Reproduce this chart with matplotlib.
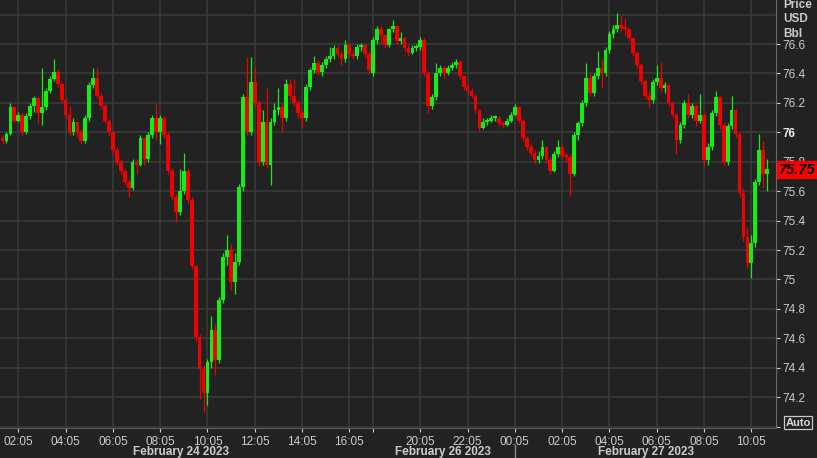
import matplotlib
matplotlib.use("Agg")
import matplotlib.pyplot as plt
from matplotlib.patches import Rectangle
from matplotlib.lines import Line2D

# WTI crude, 10-minute bars, Fri 24 Feb 01:25 -> Mon 27 Feb 10:35 (weekend removed)
first_open = 75.96
sunday_bar = 94
sunday_open = 76.40

closes = [
    75.94, 75.99, 76.17, 76.08, 76.12, 76.00, 76.11, 76.18, 76.23, 76.13,
    76.17, 76.28, 76.36, 76.41, 76.33, 76.22, 76.12, 76.00, 76.07, 76.00,
    75.94, 76.10, 76.32, 76.37, 76.25, 76.18, 76.08, 76.00, 75.88, 75.80,
    75.74, 75.66, 75.62, 75.80, 75.78, 75.96, 75.82, 75.98, 76.10, 76.00,
    76.10, 75.98, 75.74, 75.56, 75.46, 75.60, 75.74, 75.54, 75.09, 74.61,
    74.39, 74.23, 74.44, 74.66, 74.45, 74.86, 75.15, 75.20, 74.98, 75.12,
    75.63, 76.24, 76.00, 76.34, 76.20, 75.80, 76.07, 75.78, 76.07, 76.15,
    76.17, 76.10, 76.33, 76.25, 76.20, 76.13, 76.10, 76.31, 76.42, 76.47,
    76.41, 76.46, 76.50, 76.52, 76.57, 76.53, 76.50, 76.59, 76.53, 76.52,
    76.58, 76.59, 76.53, 76.42,
    76.63, 76.70, 76.66, 76.59, 76.70, 76.72, 76.62, 76.64, 76.57, 76.54,
    76.57, 76.58, 76.63, 76.40, 76.18, 76.24, 76.40, 76.44, 76.40, 76.44,
    76.46, 76.48, 76.38, 76.31, 76.28, 76.25, 76.15, 76.03, 76.07, 76.08,
    76.10, 76.10, 76.06, 76.05, 76.08, 76.12, 76.17, 76.08, 75.96, 75.90,
    75.86, 75.81, 75.84, 75.90, 75.81, 75.74, 75.85, 75.90, 75.84, 75.83,
    75.72, 75.98, 76.06, 76.20, 76.37, 76.27, 76.38, 76.44, 76.40, 76.56,
    76.67, 76.70, 76.73, 76.71, 76.70, 76.64, 76.54, 76.46, 76.35, 76.25,
    76.22, 76.34, 76.37, 76.30, 76.32, 76.20, 76.12, 75.95, 76.05, 76.20,
    76.12, 76.18, 76.08, 76.12, 75.81, 75.90, 76.13, 76.24, 76.05, 75.80,
    76.04, 76.15, 75.99, 75.59, 75.29, 75.11, 75.25, 75.66, 75.88, 75.72,
    75.75,
]
highs = [
    75.98, 76.00, 76.20, 76.18, 76.14, 76.13, 76.13, 76.20, 76.25, 76.24,
    76.44, 76.30, 76.38, 76.50, 76.43, 76.34, 76.23, 76.18, 76.10, 76.08,
    76.02, 76.12, 76.34, 76.44, 76.44, 76.27, 76.19, 76.09, 76.01, 75.90,
    75.82, 75.75, 75.68, 75.82, 75.82, 75.98, 75.97, 76.00, 76.12, 76.19,
    76.12, 76.11, 76.00, 75.76, 75.58, 75.75, 75.86, 75.76, 75.56, 75.10,
    74.63, 74.42, 74.46, 74.75, 74.70, 74.88, 75.18, 75.30, 75.24, 75.18,
    75.65, 76.26, 76.51, 76.51, 76.44, 76.22, 76.15, 76.30, 76.10, 76.20,
    76.30, 76.20, 76.36, 76.36, 76.36, 76.22, 76.15, 76.33, 76.44, 76.52,
    76.49, 76.48, 76.52, 76.58, 76.59, 76.59, 76.55, 76.63, 76.60, 76.56,
    76.60, 76.61, 76.60, 76.55,
    76.65, 76.72, 76.72, 76.67, 76.71, 76.76, 76.73, 76.68, 76.65, 76.59,
    76.59, 76.60, 76.65, 76.64, 76.41, 76.26, 76.47, 76.46, 76.45, 76.46,
    76.48, 76.50, 76.49, 76.39, 76.33, 76.30, 76.26, 76.16, 76.10, 76.10,
    76.12, 76.12, 76.11, 76.08, 76.10, 76.14, 76.19, 76.18, 76.09, 75.97,
    75.92, 75.88, 75.87, 75.95, 75.91, 75.83, 75.87, 75.95, 75.91, 75.86,
    75.85, 76.00, 76.08, 76.22, 76.47, 76.40, 76.40, 76.55, 76.50, 76.58,
    76.69, 76.73, 76.81, 76.79, 76.78, 76.71, 76.65, 76.55, 76.47, 76.36,
    76.28, 76.36, 76.46, 76.48, 76.34, 76.33, 76.21, 76.13, 76.07, 76.22,
    76.26, 76.20, 76.19, 76.26, 76.13, 75.93, 76.15, 76.28, 76.25, 76.07,
    76.06, 76.25, 76.16, 76.00, 75.62, 75.36, 75.30, 75.68, 75.99, 75.94,
    75.82,
]
lows = [
    75.92, 75.93, 75.98, 76.06, 76.07, 75.98, 75.99, 76.09, 76.14, 76.06,
    76.05, 76.15, 76.27, 76.35, 76.31, 76.20, 76.10, 75.98, 75.98, 75.97,
    75.92, 75.93, 76.08, 76.30, 76.23, 76.16, 76.06, 75.98, 75.86, 75.78,
    75.72, 75.64, 75.56, 75.61, 75.72, 75.77, 75.78, 75.80, 75.96, 75.95,
    75.92, 75.96, 75.72, 75.54, 75.39, 75.44, 75.58, 75.52, 75.07, 74.58,
    74.19, 74.10, 74.15, 74.40, 74.35, 74.43, 74.84, 75.10, 74.93, 74.90,
    75.10, 75.60, 75.98, 75.98, 76.18, 75.77, 75.78, 75.76, 75.64, 76.05,
    76.12, 76.00, 76.08, 76.22, 76.18, 76.10, 76.03, 76.08, 76.29, 76.40,
    76.39, 76.38, 76.44, 76.48, 76.50, 76.51, 76.46, 76.48, 76.51, 76.50,
    76.50, 76.55, 76.51, 76.40,
    76.38, 76.60, 76.60, 76.57, 76.58, 76.68, 76.60, 76.60, 76.55, 76.52,
    76.53, 76.55, 76.56, 76.38, 76.13, 76.16, 76.22, 76.38, 76.37, 76.39,
    76.42, 76.44, 76.36, 76.29, 76.26, 76.23, 76.13, 76.01, 76.02, 76.05,
    76.07, 76.08, 76.04, 76.03, 76.04, 76.07, 76.11, 76.06, 75.94, 75.88,
    75.84, 75.79, 75.79, 75.82, 75.79, 75.72, 75.73, 75.83, 75.82, 75.80,
    75.57, 75.70, 75.95, 76.04, 76.18, 76.25, 76.25, 76.36, 76.30, 76.38,
    76.54, 76.64, 76.68, 76.69, 76.66, 76.62, 76.52, 76.44, 76.33, 76.23,
    76.17, 76.20, 76.32, 76.28, 76.27, 76.18, 76.10, 75.85, 75.93, 76.03,
    76.10, 76.10, 76.04, 76.06, 75.77, 75.78, 75.88, 76.11, 76.02, 75.78,
    75.78, 76.02, 75.97, 75.56, 75.26, 75.08, 75.01, 75.22, 75.64, 75.62,
    75.60,
]
last_price = 75.75

time_ticks = [4, 16, 28, 40, 52, 64, 76, 88, 94, 106, 118, 130, 142, 154, 166, 178, 190]
time_labels = ['02:05', '04:05', '06:05', '08:05', '10:05', '12:05', '14:05', '16:05', '',
               '20:05', '22:05', '00:05', '02:05', '04:05', '06:05', '08:05', '10:05']
price_ticks = [74.0, 74.2, 74.4, 74.6, 74.8, 75.0, 75.2, 75.4, 75.6, 75.8, 76.0, 76.2, 76.4, 76.6]
price_labels = ['', '74.2', '74.4', '74.6', '74.8', '75', '75.2', '75.4', '75.6', '75.8',
                '76', '76.2', '76.4', '76.6']
grid_prices = price_ticks + [76.8]
date_labels = ['February 24 2023', 'February 26 2023', 'February 27 2023']
date_x_px = [181, 443, 646]

BG = '#222222'
GRID = '#3c3c3c'
TXT = '#cccccc'
UP = '#14ee14'
DN = '#f20000'
W, H = 817, 458

plt.rcParams['font.family'] = ['Liberation Sans', 'DejaVu Sans']

opens = [first_open] + closes[:-1]
opens[sunday_bar] = sunday_open

fig = plt.figure(figsize=(W / 100, H / 100), dpi=100)
fig.patch.set_facecolor(BG)
ax = fig.add_axes([0, 30 / H, 776 / W, 428 / H])
ax.set_facecolor(BG)

for p in grid_prices:
    ax.axhline(p, color=GRID, lw=1.1, zorder=0)
for t in time_ticks:
    ax.axvline(t, color=GRID, lw=1.1, zorder=0)

xs = list(range(len(closes)))
cols = [UP if c >= o else DN for o, c in zip(opens, closes)]
ax.vlines(xs, lows, highs, colors=cols, lw=0.9, zorder=2)
bottoms = [min(o, c) for o, c in zip(opens, closes)]
heights = [max(abs(c - o), 0.014) for o, c in zip(opens, closes)]
ax.bar(xs, heights, bottom=bottoms, width=0.95, color=cols, lw=0, zorder=3)

ax.set_xlim(-0.643, 196.26)
ax.set_ylim(73.991, 76.899)

ax.set_xticks(time_ticks)
ax.set_xticklabels(time_labels)
ax.yaxis.tick_right()
ax.set_yticks(price_ticks)
ax.set_yticklabels(price_labels)
ax.tick_params(axis='x', colors=TXT, labelsize=8.5, length=3, pad=2.5)
ax.tick_params(axis='y', colors=TXT, labelsize=8.5, length=3, pad=1.5)
for lab in ax.get_yticklabels():
    if lab.get_text() == '76':
        lab.set_fontweight('bold')
        lab.set_color('#f0f0f0')

for s in ['left', 'top']:
    ax.spines[s].set_visible(False)
ax.spines['bottom'].set_color('#5c5c5c')
ax.spines['right'].set_color('#6a6a6a')

# axis title on the price scale
for txt, ypx in zip(['Price', 'USD', 'Bbl'], [5, 19, 34]):
    fig.text(783 / W, 1 - ypx / H, txt, color=TXT, fontsize=8.5, fontweight='bold',
             ha='left', va='center')

# date row
for txt, xp in zip(date_labels, date_x_px):
    fig.text(xp / W, 1 - 452.5 / H, txt, color=TXT, fontsize=8.5, fontweight='bold',
             ha='center', va='center')
fig.add_artist(Line2D([515.3 / W, 515.3 / W], [0, 1 - 445 / H], color='#8a8a8a', lw=1))

# last price tag (covers the 75.8 label as in the terminal view)
fig.add_artist(Rectangle((776.5 / W, 1 - 178 / H), 40.5 / W, 17 / H, color='#ff0000',
                         transform=fig.transFigure, zorder=5))
fig.text(797 / W, 1 - 169.5 / H, f'{last_price:.2f}', color='black', fontsize=10.5,
         fontweight='bold', fontstyle='italic', ha='center', va='center', zorder=6)

# "Auto" scale button
fig.text(798 / W, 1 - 422.5 / H, 'Auto', color='#d8d8d8', fontsize=8, fontweight='bold',
         ha='center', va='center', zorder=6,
         bbox=dict(boxstyle='square,pad=0.15', fc=BG, ec='#c8c8c8', lw=0.9))

fig.savefig('out.png', dpi=100, facecolor=fig.get_facecolor())
